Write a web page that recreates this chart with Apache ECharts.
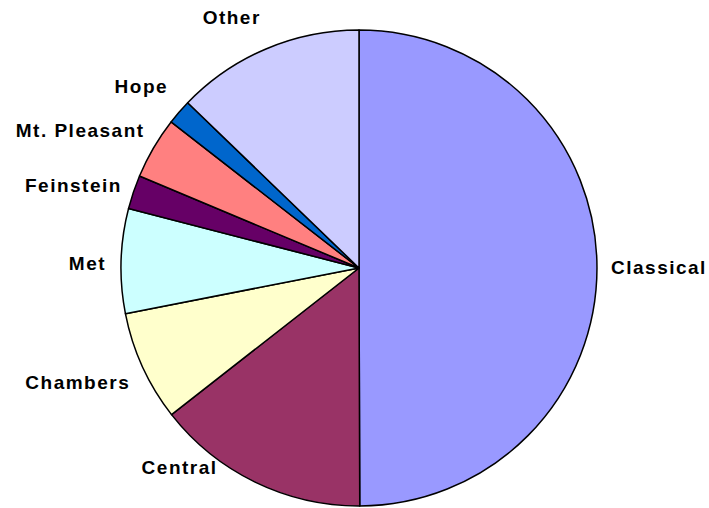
<!DOCTYPE html>
<html>
<head>
<meta charset="utf-8">
<script src="https://cdn.jsdelivr.net/npm/echarts@6/dist/echarts.min.js"></script>
<style>
  html, body { margin: 0; padding: 0; background: #fff; }
  #chart { width: 709px; height: 508px; }
  #chart svg text { letter-spacing: 1.5px; }
</style>
</head>
<body>
<div id="chart"></div>
<script>
  // shares (percent)
  var categories = ['Classical', 'Central', 'Chambers', 'Met', 'Feinstein', 'Mt. Pleasant', 'Hope', 'Other'];
  var shares = [50.0, 14.5, 7.5, 7.1, 2.3, 4.2, 1.7, 12.8];
  var sliceColors = ['#9999FF', '#993366', '#FFFFCC', '#CCFFFF', '#660066', '#FF8080', '#0066CC', '#CCCCFF'];
  // small label nudges so the names sit where the original puts them
  var labelNudge = [[1, 0], [-29, -22], [0, 12], [-2, 3], [1, -4], [3, -13], [0, -20], [3, -24]];

  var chart = echarts.init(document.getElementById('chart'), null, {renderer: 'svg'});

  var option = {
    animation: false,
    backgroundColor: '#ffffff',
    series: [
      {
        type: 'pie',
        center: [359, 268],
        radius: 238,
        startAngle: 90,
        clockwise: true,
        avoidLabelOverlap: false,
        data: categories.map(function (name, i) {
          return {name: name, value: shares[i], itemStyle: {color: sliceColors[i]}};
        }),
        itemStyle: {
          borderColor: '#000',
          borderWidth: 1.5
        },
        label: {
          show: true,
          position: 'outside',
          formatter: '{b}',
          color: '#000',
          fontFamily: 'Liberation Sans, Arial, sans-serif',
          fontWeight: 'bold',
          fontSize: 19
        },
        labelLine: {
          show: false,
          length: 8,
          length2: 0
        },
        labelLayout: function (params) {
          var n = labelNudge[params.dataIndex];
          return {dx: n[0], dy: n[1]};
        },
        emphasis: {disabled: true}
      }
    ]
  };

  chart.setOption(option);
  window.addEventListener('resize', chart.resize);
</script>
</body>
</html>
